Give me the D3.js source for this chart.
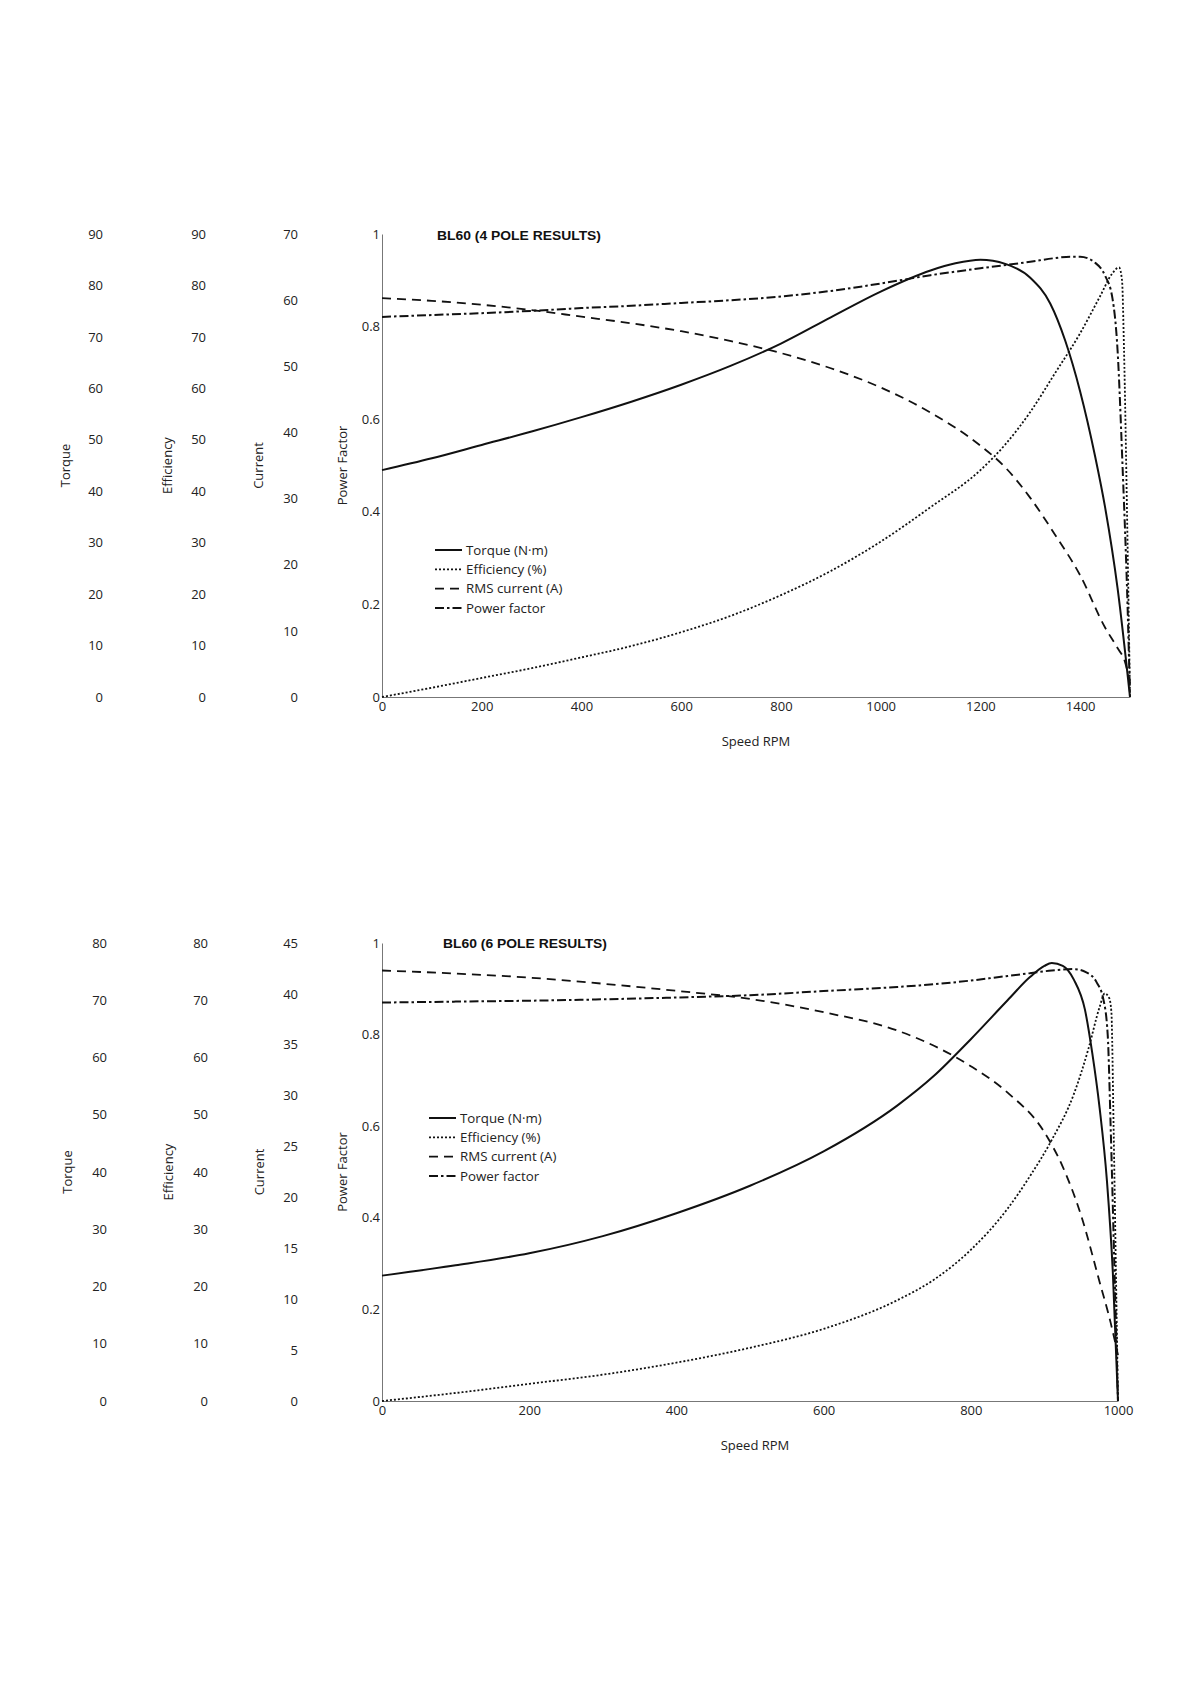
<!DOCTYPE html>
<html>
<head>
<meta charset="utf-8">
<script src="https://cdn.jsdelivr.net/npm/d3@7"></script>
<style>
  body { margin: 0; background: #fff; }
  text { fill: #222; }
</style>
</head>
<body>
<svg id="page" width="1190" height="1684"></svg>
<script>
// ---- BL60 4 pole ----  [rpm, value]
var torque4 = [[0,44.1],[100,46.4],[200,49.0],[300,51.6],[400,54.4],[500,57.4],[600,60.7],[700,64.4],[800,68.7],[900,73.8],[1000,78.8],[1100,82.9],[1150,84.3],[1200,85.0],[1250,84.2],[1300,81.5],[1340,76.5],[1370,69.3],[1400,59.4],[1430,46.8],[1450,36.9],[1475,21.2],[1500,0]];
var eff4 = [[0,0],[100,1.8],[200,3.7],[300,5.6],[400,7.7],[500,9.9],[600,12.6],[700,15.8],[800,19.8],[900,24.5],[1000,30.2],[1100,36.9],[1200,44.1],[1250,49.1],[1300,55.4],[1350,63.0],[1400,70.7],[1440,77.9],[1465,82.4],[1478,83.5],[1484,81.0],[1488,67.5],[1494,36],[1500,0]];
var current4 = [[0,60.3],[100,59.9],[200,59.3],[300,58.5],[400,57.5],[500,56.5],[600,55.3],[700,53.8],[800,52.0],[900,49.7],[1000,46.8],[1100,43.0],[1200,38.0],[1250,34.7],[1300,30.1],[1350,24.5],[1400,18.4],[1450,10.5],[1475,7.4],[1490,5.3],[1500,2.1]];
var pf4 = [[0,0.821],[100,0.825],[200,0.829],[300,0.834],[400,0.84],[500,0.845],[600,0.851],[700,0.857],[800,0.865],[900,0.877],[1000,0.893],[1100,0.911],[1200,0.926],[1300,0.94],[1350,0.948],[1380,0.951],[1400,0.951],[1430,0.938],[1450,0.91],[1465,0.86],[1475,0.75],[1485,0.5],[1495,0.2],[1500,0]];

// ---- BL60 6 pole ----
var torque6 = [[0,21.9],[100,23.7],[200,25.8],[300,28.8],[400,32.8],[500,37.6],[600,43.6],[700,51.6],[750,56.8],[800,63.2],[850,70.0],[880,74.0],[900,76.0],[910,76.5],[925,76.0],[940,73.6],[955,68.4],[965,60.8],[975,51.2],[985,38.4],[993,22.4],[1000,0]];
var eff6 = [[0,0],[100,1.4],[200,3.0],[300,4.6],[400,6.7],[500,9.3],[600,12.6],[700,17.6],[750,21.2],[800,26.4],[850,33.6],[880,39.2],[910,45.6],[940,53.6],[960,61.6],[975,68.8],[982,71.2],[988,70.4],[991,68],[994,48],[997,24],[1000,0]];
var current6 = [[0,42.3],[100,42.0],[200,41.6],[300,41.0],[400,40.3],[500,39.5],[600,38.2],[700,36.4],[750,34.9],[800,32.9],[850,30.3],[900,26.4],[925,23.0],[950,18.2],[975,11.7],[990,7.7],[1000,4.5]];
var pf6 = [[0,0.87],[100,0.872],[200,0.874],[300,0.877],[400,0.881],[500,0.886],[600,0.895],[700,0.904],[750,0.91],[800,0.918],[850,0.928],[880,0.934],[910,0.94],[940,0.943],[957,0.936],[971,0.914],[980,0.878],[986,0.8],[990,0.6],[995,0.3],[1000,0]];

var legendLabels = ['Torque (N\u00b7m)', 'Efficiency (%)', 'RMS current (A)', 'Power factor'];
var ticks4x = [0, 200, 400, 600, 800, 1000, 1200, 1400];
var ticks6x = [0, 200, 400, 600, 800, 1000];

var styles = [
  { dash: null, width: 2 },
  { dash: '2,2', width: 1.8 },
  { dash: '9,6', width: 1.8 },
  { dash: '9,3,2.5,3', width: 2 }
];

var svg = d3.select('#page');

function styleTicks(sel) {
  sel.selectAll('text')
    .style('font-family', '"Open Sans", sans-serif')
    .style('font-size', '13px')
    .style('fill', '#222');
}

function drawChart(cfg) {
  var g = svg.append('g');
  var x = d3.scaleLinear().domain([0, cfg.xMax]).range([382, cfg.xEnd]);
  var yT = d3.scaleLinear().domain([0, cfg.tMax]).range([cfg.y0, cfg.y1]);
  var yE = d3.scaleLinear().domain([0, cfg.eMax]).range([cfg.y0, cfg.y1]);
  var yC = d3.scaleLinear().domain([0, cfg.cMax]).range([cfg.y0, cfg.y1]);
  var yP = d3.scaleLinear().domain([0, 1]).range([cfg.y0, cfg.y1]);

  // value columns on the left (labels only)
  var cols = [
    { s: yT, step: 10, x: cfg.colX[0], title: 'Torque', tx: cfg.titleX[0] },
    { s: yE, step: 10, x: cfg.colX[1], title: 'Efficiency', tx: cfg.titleX[1] },
    { s: yC, step: cfg.cStep, x: cfg.colX[2], title: 'Current', tx: cfg.titleX[2] }
  ];
  cols.forEach(function(c) {
    var ax = g.append('g')
      .attr('transform', 'translate(' + c.x + ',0)')
      .call(d3.axisLeft(c.s).tickValues(d3.range(0, c.s.domain()[1] + 0.01, c.step)).tickSize(0).tickPadding(0));
    ax.select('.domain').remove();
    styleTicks(ax);
  });

  // power factor axis with its line
  var pfAx = g.append('g')
    .attr('transform', 'translate(382,0)')
    .call(d3.axisLeft(yP).tickValues([0, 0.2, 0.4, 0.6, 0.8, 1]).tickFormat(d3.format('~g')).tickSize(0).tickSizeOuter(0).tickPadding(2));
  pfAx.select('.domain').attr('stroke', '#777');
  styleTicks(pfAx);

  var xAx = g.append('g')
    .attr('transform', 'translate(0,' + cfg.y0 + ')')
    .call(d3.axisBottom(x).tickValues(cfg.xTicks).tickFormat(d3.format('d')).tickSize(0).tickSizeOuter(0).tickPadding(5));
  xAx.select('.domain').attr('stroke', '#777');
  styleTicks(xAx);

  // axis titles
  cols.concat([{ title: 'Power Factor', tx: 342 }]).forEach(function(c) {
    g.append('text')
      .attr('transform', 'translate(' + c.tx + ',' + ((cfg.y0 + cfg.y1) / 2) + ') rotate(-90)')
      .attr('text-anchor', 'middle')
      .attr('dy', '0.35em')
      .style('font-family', '"Open Sans", sans-serif')
      .style('font-size', '13px')
      .text(c.title);
  });

  g.append('text')
    .attr('x', cfg.xLabel)
    .attr('y', cfg.y0 + 49)
    .attr('text-anchor', 'middle')
    .style('font-family', '"Open Sans", sans-serif')
    .style('font-size', '13px')
    .text('Speed RPM');

  g.append('text')
    .attr('x', cfg.titlePos[0])
    .attr('y', cfg.titlePos[1])
    .attr('textLength', 164)
    .attr('lengthAdjust', 'spacingAndGlyphs')
    .style('font-family', '"Liberation Sans", Arial, sans-serif')
    .style('font-weight', 'bold')
    .style('font-size', '13px')
    .style('fill', '#111')
    .text(cfg.title);

  var series = [
    { data: cfg.torque, y: yT },
    { data: cfg.eff, y: yE },
    { data: cfg.current, y: yC },
    { data: cfg.pf, y: yP }
  ];
  series.forEach(function(s, i) {
    var line = d3.line()
      .x(function(d) { return x(d[0]); })
      .y(function(d) { return s.y(d[1]); })
      .curve(d3.curveMonotoneX);
    g.append('path')
      .datum(s.data)
      .attr('d', line)
      .attr('fill', 'none')
      .attr('stroke', '#111')
      .attr('stroke-width', styles[i].width)
      .attr('stroke-dasharray', styles[i].dash);
  });

  // legend
  var lg = g.append('g').attr('transform', 'translate(' + cfg.legend[0] + ',' + cfg.legend[1] + ')');
  legendLabels.forEach(function(lab, i) {
    var yy = i * 19.3;
    lg.append('line')
      .attr('x1', 0).attr('x2', 27)
      .attr('y1', yy).attr('y2', yy)
      .attr('stroke', '#111')
      .attr('stroke-width', styles[i].width)
      .attr('stroke-dasharray', styles[i].dash);
    lg.append('text')
      .attr('x', 31)
      .attr('y', yy)
      .attr('dy', '0.35em')
      .style('font-family', '"Open Sans", sans-serif')
      .style('font-size', '13.3px')
      .text(lab);
  });
}

drawChart({
  title: 'BL60 (4 POLE RESULTS)', titlePos: [437, 240],
  xMax: 1500, xEnd: 1130, xTicks: ticks4x, xLabel: 756,
  y0: 697, y1: 234,
  tMax: 90, eMax: 90, cMax: 70, cStep: 10,
  colX: [103, 206, 298], titleX: [65, 167, 258],
  torque: torque4, eff: eff4, current: current4, pf: pf4,
  legend: [435, 550]
});

drawChart({
  title: 'BL60 (6 POLE RESULTS)', titlePos: [443, 948],
  xMax: 1000, xEnd: 1118, xTicks: ticks6x, xLabel: 755,
  y0: 1401, y1: 943,
  tMax: 80, eMax: 80, cMax: 45, cStep: 5,
  colX: [107, 208, 298], titleX: [67, 168, 259],
  torque: torque6, eff: eff6, current: current6, pf: pf6,
  legend: [429, 1118]
});
</script>
</body>
</html>
